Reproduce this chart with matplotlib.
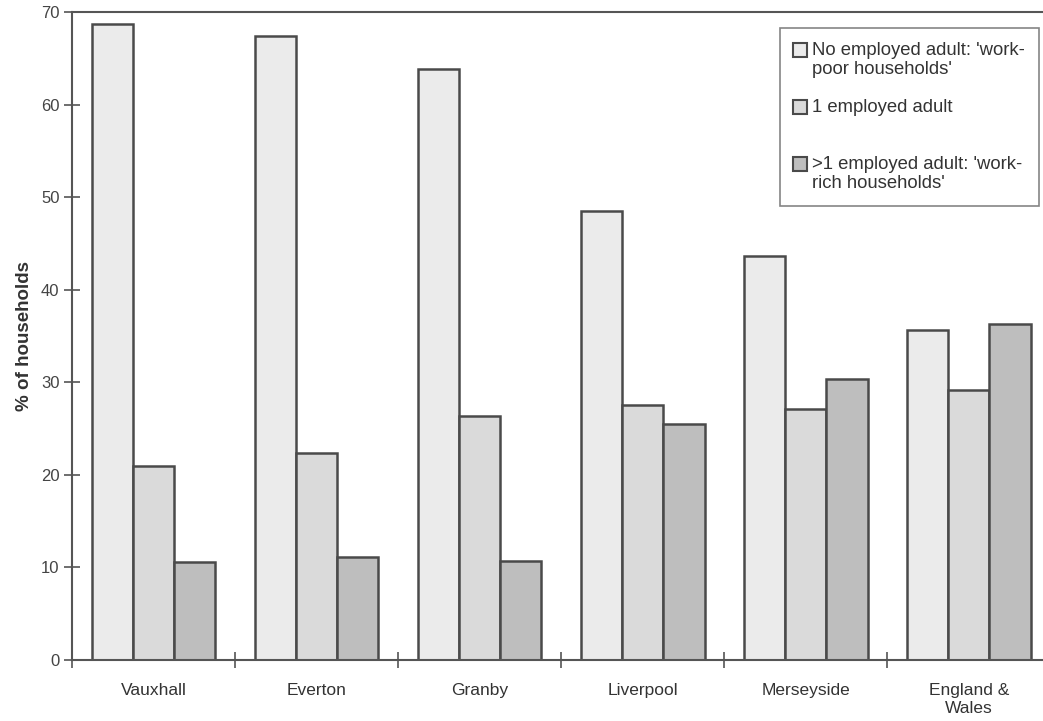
import numpy as np
import matplotlib
matplotlib.use("Agg")
import matplotlib.pyplot as plt
from matplotlib.patches import Patch, Rectangle
from matplotlib.legend_handler import HandlerPatch

plt.rcParams['font.family'] = ['Liberation Sans', 'DejaVu Sans']

areas = ["Vauxhall", "Everton", "Granby", "Liverpool", "Merseyside", "England &\nWales"]
no_employed = [68.7, 67.4, 63.9, 48.5, 43.7, 35.6]
one_employed = [20.9, 22.3, 26.4, 27.5, 27.1, 29.2]
multi_employed = [10.6, 11.1, 10.7, 25.5, 30.4, 36.3]

labels = ["No employed adult: 'work-\npoor households'",
          "1 employed adult\n",
          ">1 employed adult: 'work-\nrich households'"]
colors = ["#ebebeb", "#dadada", "#bebebe"]
edge = "#4a4a4a"

fig = plt.figure(figsize=(10.43, 7.21), dpi=100)
ax = fig.add_axes([0.069, 0.085, 0.938, 0.898])

x = np.arange(len(areas))
w = 0.253
for i, (vals, c) in enumerate(zip([no_employed, one_employed, multi_employed], colors)):
    ax.bar(x + (i - 1) * w, vals, width=w, color=c, edgecolor=edge, linewidth=1.8)

ax.set_xlim(-0.5, 5.5)
ax.set_ylim(0, 70)
ax.set_yticks(range(0, 71, 10))
ax.set_xticks(x)
ax.set_xticklabels(areas, fontsize=12.5, color="#333333")
ax.set_xticks(np.arange(-0.5, 6, 1), minor=True)
ax.tick_params(axis="x", which="major", length=0, pad=17)
ax.tick_params(axis="x", which="minor", direction="inout", length=12, width=1.2, color="#555555")
ax.tick_params(axis="y", direction="inout", length=12, width=1.2, color="#555555",
               labelsize=12, labelcolor="#444444", pad=3)
ax.set_ylabel("% of households", fontsize=13.5, fontweight="bold", color="#333333", labelpad=6)

for s in ax.spines.values():
    s.set_color("#555555")
    s.set_linewidth(1.5)


# legend boxes sit level with the first line of each label
def top_box(legend, orig_handle, xdescent, ydescent, width, height, fontsize):
    return Rectangle((-xdescent, -ydescent + 0.55 * fontsize), width, height)


handles = [Patch(facecolor=c, edgecolor=edge, linewidth=1.5) for c in colors]
leg = ax.legend(handles, labels, loc="upper right", bbox_to_anchor=(0.9975, 0.99), fontsize=13.3,
                frameon=True, fancybox=False, edgecolor="#666666", labelspacing=1.1,
                handlelength=0.75, handleheight=0.75, handletextpad=0.25, borderpad=0.75,
                handler_map={Patch: HandlerPatch(patch_func=top_box)})
leg.get_frame().set_linewidth(1.2)
for t in leg.get_texts():
    t.set_color("#333333")

fig.savefig("out.png", dpi=100)
